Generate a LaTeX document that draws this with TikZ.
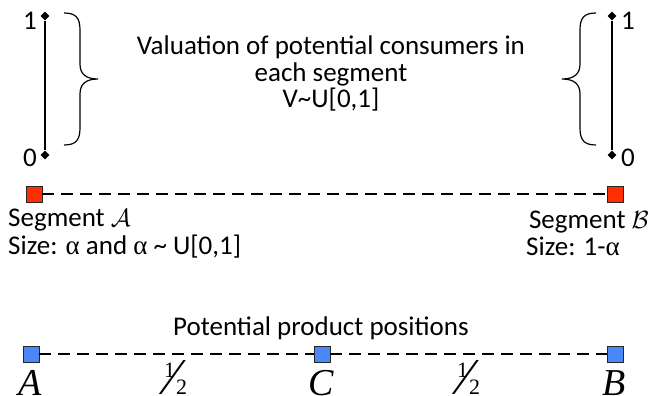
\documentclass[tikz,border=0pt]{standalone}
\usepackage{fontspec}
\setmainfont{Carlito}
\newfontfamily\timesf{Liberation Serif}
\usetikzlibrary{shapes.geometric}
\definecolor{sqred}{HTML}{FF2E00}
\definecolor{sqblue}{HTML}{4A88F7}
\newcommand\halfnum{{\timesf\fontsize{22}{22}\selectfont\rlap{\kern4pt\raisebox{17pt}{1}}\rlap{\kern16pt 2}\rlap{\kern8pt{\fontsize{52}{52}\selectfont ⁄}}\kern28pt}}
\begin{document}
\begin{tikzpicture}[x=1pt,y=-1pt,
  lbl/.style={font=\fontsize{27}{28}\selectfont, inner sep=0pt},
  big/.style={font=\timesf\itshape\fontsize{38}{38}\selectfont, inner sep=0pt, anchor=base},
  dia/.style={diamond, fill=black, inner sep=0pt, minimum size=9pt},
  vline/.style={line width=1.6pt},
  brace/.style={line width=1.2pt},
  sqr/.style={draw=black!85, line width=0.9pt, minimum size=16pt, inner sep=0pt},
  dline/.style={line width=1.6pt, dash pattern=on 12pt off 7pt}]
\useasboundingbox (0,0) rectangle (657,396);
% left scale
\node[dia] (l1) at (45,16) {};
\node[dia] (l0) at (45,155) {};
\draw[vline] (l1) -- (l0);
\node[lbl, anchor=base east] (t1) at (37,30) {1};
\node[lbl, anchor=base east] (t0) at (37,166) {0};
% right scale
\node[dia] (r1) at (612,16) {};
\node[dia] (r0) at (612,155) {};
\draw[vline] (r1) -- (r0);
\node[lbl, anchor=base west] (u1) at (621,30) {1};
\node[lbl, anchor=base west] (u0) at (621,166) {0};
% braces
\coordinate (lbt) at (64,13);
\coordinate (lbb) at (64,145);
\draw[brace] (lbt) .. controls (76,13) and (80,18) .. (80,30) -- (80,64)
  .. controls (80,74) and (86,79) .. (98,79)
  .. controls (86,79) and (80,84) .. (80,94) -- (80,128)
  .. controls (80,140) and (76,145) .. (lbb);
\coordinate (rbt) at (596,13);
\coordinate (rbb) at (596,145);
\draw[brace] (rbt) .. controls (584,13) and (580,18) .. (580,30) -- (580,64)
  .. controls (580,74) and (574,79) .. (562,79)
  .. controls (574,79) and (580,84) .. (580,94) -- (580,128)
  .. controls (580,140) and (584,145) .. (rbb);
% title
\node[lbl, anchor=base] (title1) at (331,55) {Valuation of potential consumers in};
\node[lbl, anchor=base] (title2) at (331,82) {each segment};
\node[lbl, anchor=base] (title3) at (331,108) {V\textasciitilde U[0,1]};
% segments
\node[sqr, fill=sqred] (ra) at (34,194) {};
\node[sqr, fill=sqred] (rb) at (615,194) {};
\draw[dline] (ra) -- (rb);
\node[lbl, anchor=base west] (sa) at (8,226) {Segment $\mathcal{A}$};
\node[lbl, anchor=base west] (za) at (8,254) {Size: {\timesf α} and {\timesf α} \textasciitilde\ U[0,1]};
\node[lbl, anchor=base east] (sb) at (649,228) {Segment $\mathcal{B}$};
\node[lbl, anchor=base west] (zb) at (526,255) {Size: 1-{\timesf α}};
% positions
\node[lbl, anchor=base] (pp) at (321,335) {Potential product positions};
\node[sqr, fill=sqblue] (pa) at (31,354) {};
\node[sqr, fill=sqblue] (pc) at (322,354) {};
\node[sqr, fill=sqblue] (pb) at (615,354) {};
\draw[dline] (pa) -- (pc);
\draw[dline] (pc) -- (pb);
\node[big] (la) at (30,395) {A};
\node[big] (lc) at (321,395) {C};
\node[big] (lb) at (614,395) {B};
\node[inner sep=0pt, anchor=base west] (h1) at (160,394) {\halfnum};
\node[inner sep=0pt, anchor=base west] (h2) at (453,394) {\halfnum};
\end{tikzpicture}
\end{document}
